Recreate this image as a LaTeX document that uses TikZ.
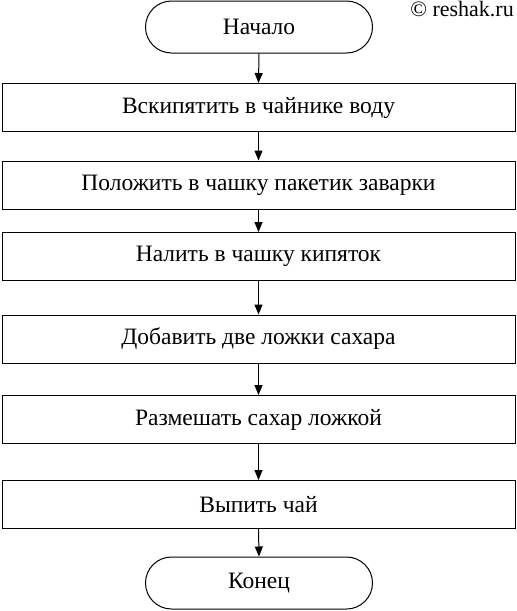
\documentclass[tikz,border=0pt]{standalone}
\usepackage{fontspec}
\setmainfont{Liberation Serif}
\usetikzlibrary{arrows.meta,shapes.misc}
\begin{document}
\begin{tikzpicture}[x=1pt,y=-1pt,
  stepbox/.style={draw,line width=1pt,minimum width=513pt,minimum height=48pt,inner sep=0pt,font=\fontsize{23.5}{26}\selectfont},
  term/.style={draw,line width=1pt,rounded rectangle,minimum width=227pt,minimum height=52pt,inner sep=0pt,font=\fontsize{23.5}{26}\selectfont},
  arr/.style={line width=1pt,-{Triangle[length=10pt,width=8pt]}}]
\useasboundingbox (0,0) rectangle (517,611);
\node[term] (s) at (259,27) {Начало};
\node[stepbox] (b1) at (258.5,107.5) {Вскипятить в чайнике воду};
\node[stepbox] (b2) at (258.5,185) {Положить в чашку пакетик заварки};
\node[stepbox] (b3) at (258.5,256.5) {Налить в чашку кипяток};
\node[stepbox] (b4) at (258.5,339) {Добавить две ложки сахара};
\node[stepbox] (b5) at (258.5,419.5) {Размешать сахар ложкой};
\node[stepbox] (b6) at (258.5,504.5) {Выпить чай};
\node[term] (e) at (259,583) {Конец};
\node[anchor=north east,inner sep=0pt,font=\fontsize{22}{24}\selectfont] (w) at (514,1) {© reshak.ru};
\draw[arr] (s.south) -- (b1.north);
\draw[arr] (b1.south) -- (b2.north);
\draw[arr] (b2.south) -- (b3.north);
\draw[arr] (b3.south) -- (b4.north);
\draw[arr] (b4.south) -- (b5.north);
\draw[arr] (b5.south) -- (b6.north);
\draw[arr] (b6.south) -- (e.north);
\end{tikzpicture}
\end{document}
